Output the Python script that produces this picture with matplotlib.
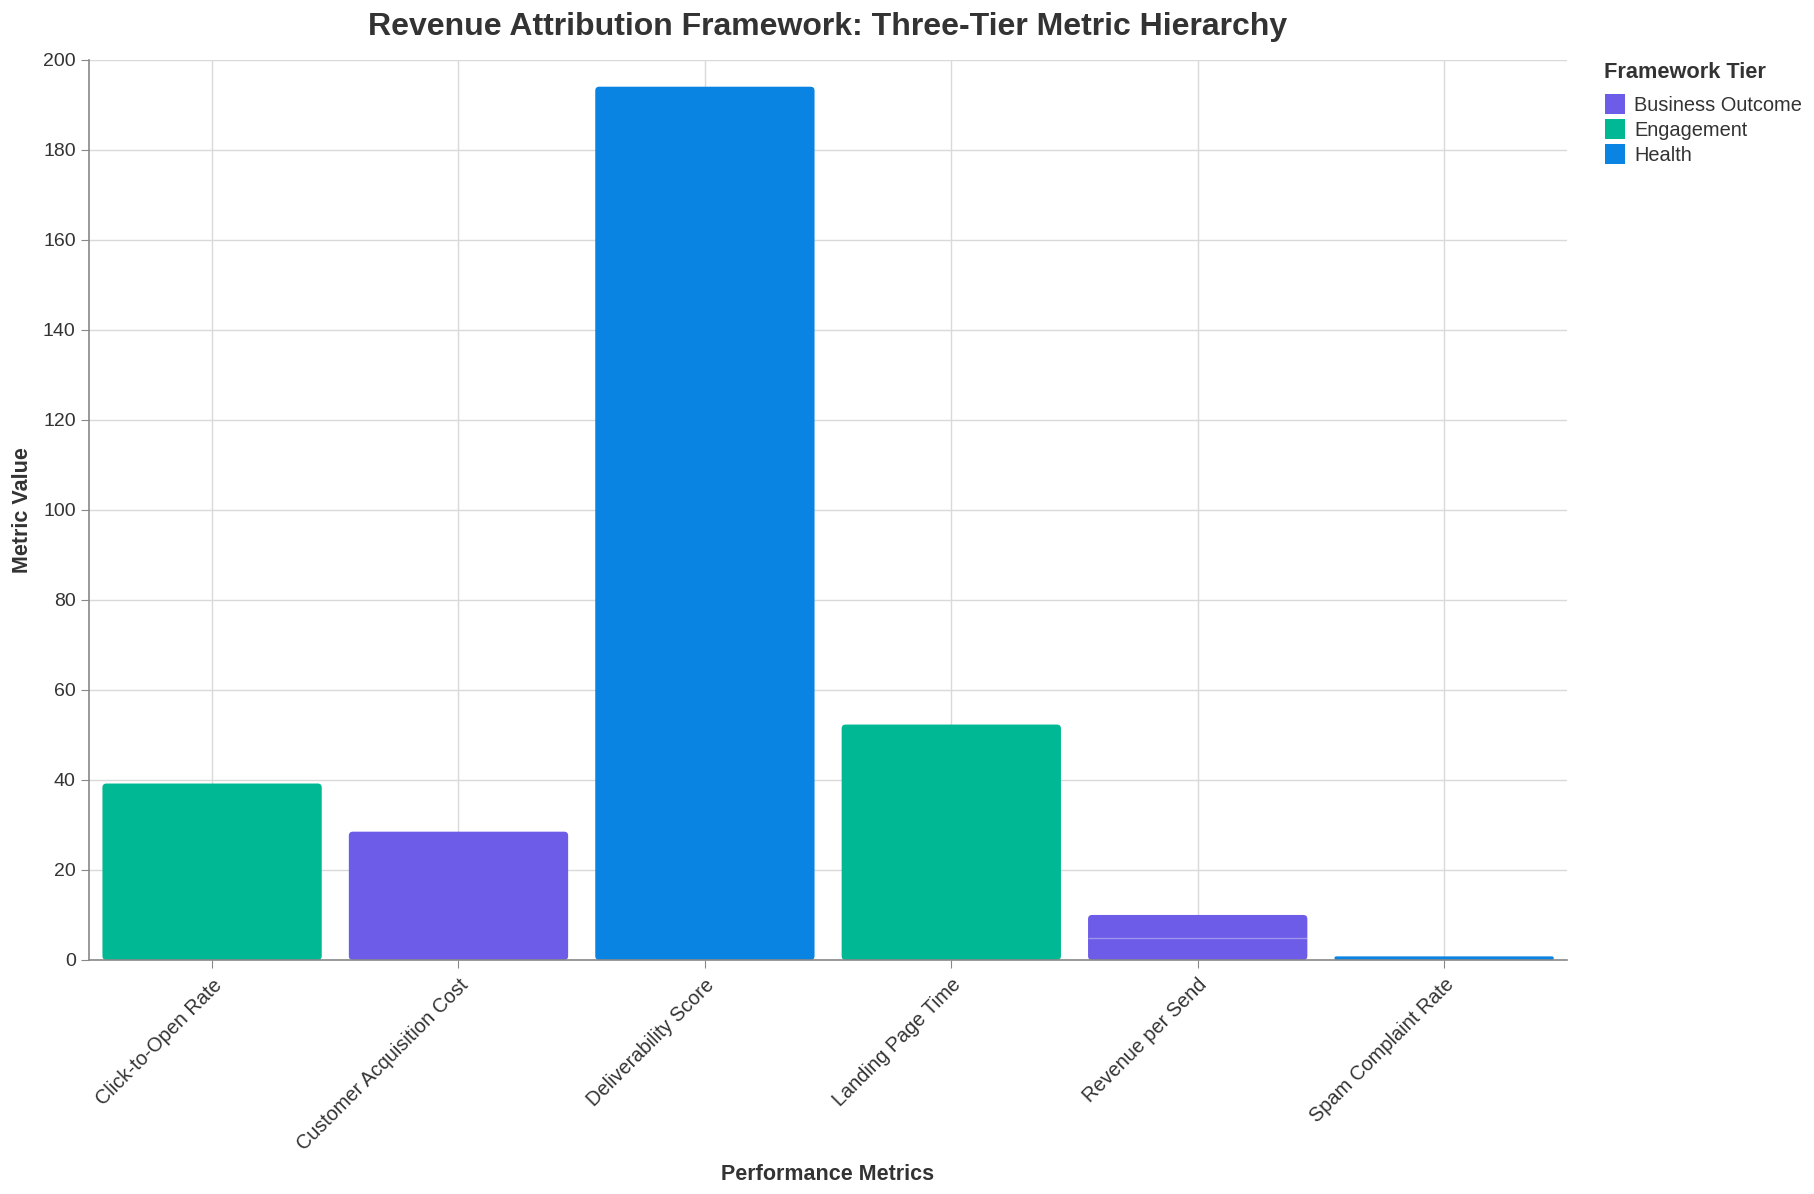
import matplotlib
matplotlib.use("Agg")
import matplotlib.pyplot as plt
from matplotlib.patches import FancyBboxPatch, Patch

plt.rcParams['font.family'] = ['Liberation Sans', 'DejaVu Sans']

# data
metrics = ['Click-to-Open Rate', 'Customer Acquisition Cost', 'Deliverability Score',
           'Landing Page Time', 'Revenue per Send', 'Spam Complaint Rate']
tiers = ['Engagement', 'Business Outcome', 'Health', 'Engagement', 'Business Outcome', 'Health']
# some metrics have more than one record, stacked on top of each other
segments = [[39.2], [28.5], [194.0], [52.3], [4.8, 5.2], [0.8]]

tier_order = ['Business Outcome', 'Engagement', 'Health']
tier_colors = {'Business Outcome': '#6c5ce7', 'Engagement': '#00b894', 'Health': '#0984e3'}

text_col = '#333333'
axis_col = '#888888'

fig = plt.figure(figsize=(18.14, 11.94), dpi=100)
ax = fig.add_axes([0.049, 0.196, 0.815, 0.754])

ax.set_xlim(-0.5, len(metrics) - 0.5)
ax.set_ylim(0, 200)

bar_w = 0.89
fig.canvas.draw()
bbox = ax.get_window_extent()
px_x = bbox.width / (len(metrics))
px_y = bbox.height / 200.0


def rounded_bar(x, bottom, height, color, radius_px=4):
    r_px = min(radius_px, height * px_y / 2)
    aspect = px_x / px_y
    p = FancyBboxPatch((x - bar_w / 2, bottom), bar_w, height,
                       boxstyle="round,pad=0,rounding_size=%f" % (r_px / px_x),
                       mutation_aspect=aspect, facecolor=color, edgecolor='none',
                       zorder=3)
    ax.add_patch(p)


for i, (segs, tier) in enumerate(zip(segments, tiers)):
    total = sum(segs)
    rounded_bar(i, 0, total, tier_colors[tier])
    # thin lighter separators between stacked records
    acc = 0
    for s in segs[:-1]:
        acc += s
        ax.hlines(acc, i - bar_w / 2, i + bar_w / 2, color='white', alpha=0.35,
                  linewidth=1, zorder=4)

ax.set_xticks(range(len(metrics)))
ax.set_xticklabels(metrics, rotation=45, ha='right', rotation_mode='anchor',
                   fontsize=14.3, color=text_col)
ax.set_yticks(range(0, 201, 20))
ax.tick_params(axis='y', labelsize=14, labelcolor=text_col, color=axis_col, length=6)
ax.tick_params(axis='x', color=axis_col, length=6, pad=5)

ax.grid(True, color='#d9d9d9', linewidth=1, zorder=0)
ax.set_axisbelow(True)
for side in ['top', 'right']:
    ax.spines[side].set_visible(False)
for side in ['left', 'bottom']:
    ax.spines[side].set_color(axis_col)
    ax.spines[side].set_linewidth(1.2)
    ax.spines[side].set_zorder(5)

fig.text(828 / 1814, 1 - 27 / 1194,
         'Revenue Attribution Framework: Three-Tier Metric Hierarchy',
         ha='center', va='center', fontsize=23, fontweight='bold', color=text_col)
fig.text(828 / 1814, 1 - 1174 / 1194, 'Performance Metrics', ha='center', va='center',
         fontsize=15.5, fontweight='bold', color=text_col)
fig.text(23 / 1814, 1 - 510 / 1194, 'Metric Value', ha='center', va='center',
         rotation=90, fontsize=15.5, fontweight='bold', color=text_col)

# legend
fig.text(1604 / 1814, 1 - 72 / 1194, 'Framework Tier', ha='left', va='center',
         fontsize=15.7, fontweight='bold', color=text_col)
handles = [Patch(facecolor=tier_colors[t], edgecolor='none', label=t) for t in tier_order]
leg = fig.legend(handles=handles, loc='upper left',
                 bbox_to_anchor=(1605 / 1814, 1 - 94 / 1194), frameon=False,
                 fontsize=14.4, handlelength=1.0, handleheight=1.15, handletextpad=0.45,
                 labelspacing=0.22, borderpad=0, borderaxespad=0)
for t in leg.get_texts():
    t.set_color(text_col)

fig.savefig('out.png', dpi=100)
